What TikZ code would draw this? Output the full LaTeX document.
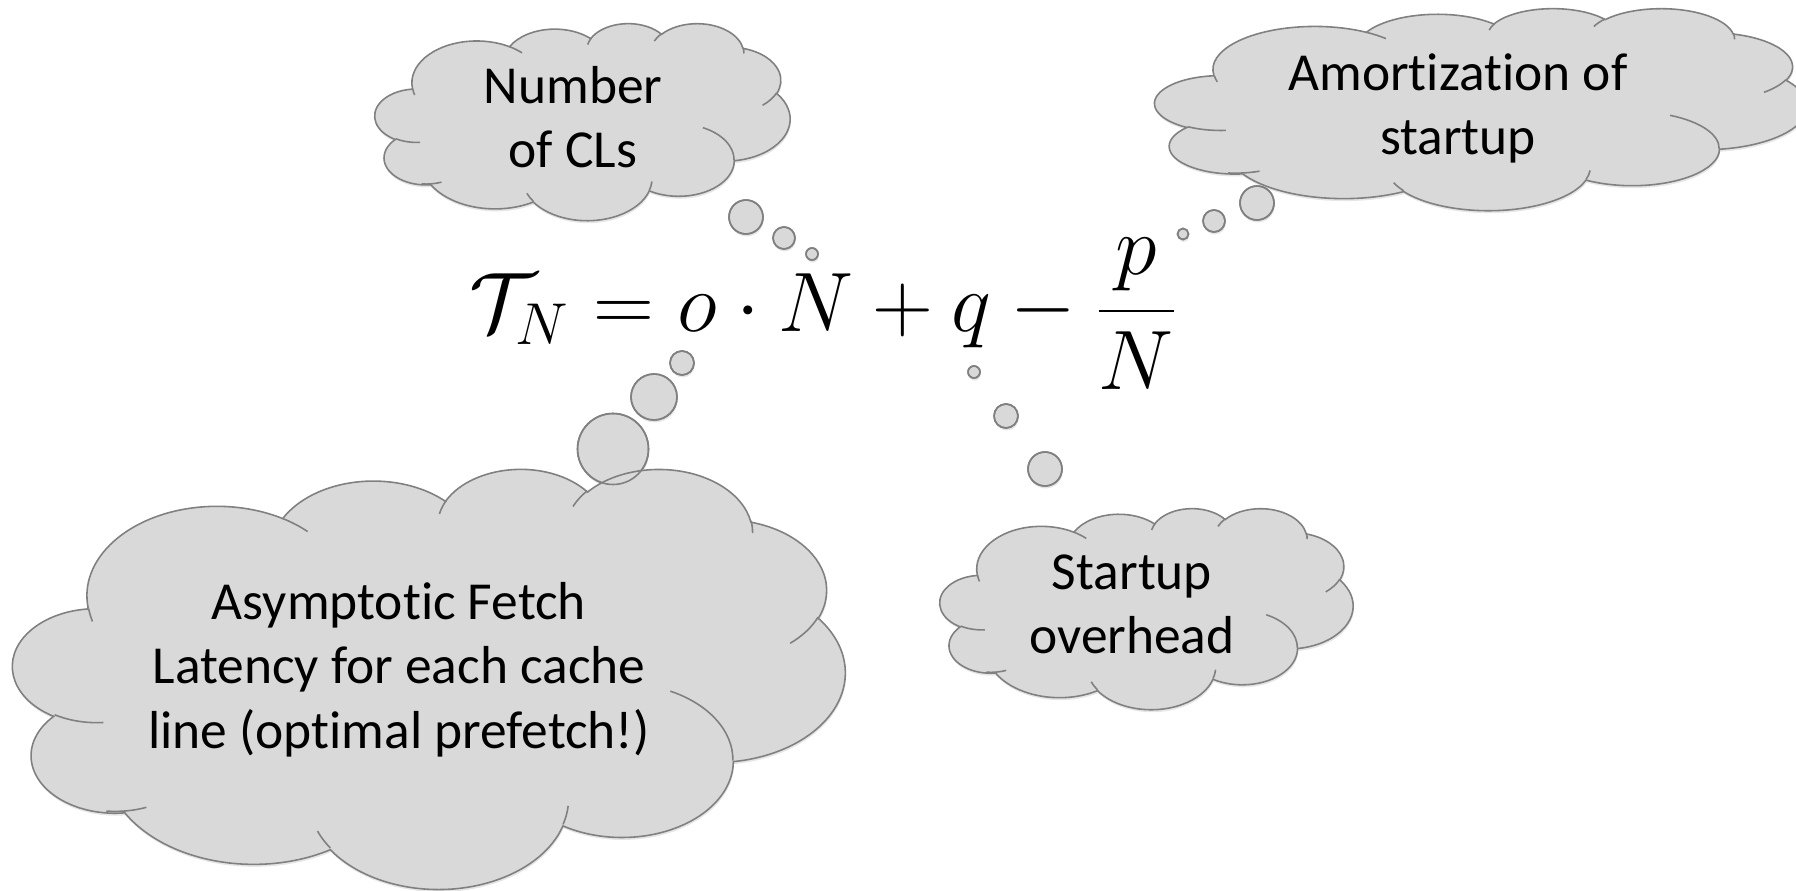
\documentclass[tikz,border=0pt]{standalone}
\usepackage{fix-cm}
\usepackage{fontspec}
\setmainfont{Carlito}[Ligatures=NoCommon]
\usetikzlibrary{shadows}

\definecolor{cloudfill}{HTML}{D9D9D9}
\definecolor{cloudline}{HTML}{808080}

\tikzset{
    % one lobe of a cloud: start angle, sweep, radii (angles measured as seen)
    lobe/.style n args={4}{x radius=#3, y radius=#4,
        start angle={vis(#1,#3,#4)}, end angle={vis(#1+#2,#3,#4)}},
    puff/.style={fill=cloudfill, draw=cloudline, line width=0.45pt,
        drop shadow={shadow xshift=0.2pt, shadow yshift=-0.7pt, opacity=0.2}},
    rim/.style={draw=cloudline, line width=0.45pt},
    thoughttext/.style={font=\fontsize{15.2}{18.2}\selectfont, align=center, inner sep=0pt},
    % cloud in a 432 x 432 box, scaled to width #1 and height #2
    pics/thought/.style 2 args={code={
        \begin{scope}[xscale=#1/432, yscale=#2/432]
            % outline
            \path[puff] (39.00,143.70)
                arc[lobe={-190.4875}{123.7805}{67.53}{91.90}]
                arc[lobe={-144.1024}{89.9452}{53.33}{72.67}]
                arc[lobe={-145.8079}{99.7230}{43.65}{59.45}]
                arc[lobe={-130.9861}{117.2417}{48.57}{65.95}]
                arc[lobe={-78.7089}{109.0269}{53.33}{72.73}]
                arc[lobe={-46.2673}{130.2690}{67.75}{92.20}]
                arc[lobe={0.6250}{114.0333}{57.85}{78.67}]
                arc[lobe={22.4516}{115.1726}{67.52}{92.15}]
                arc[lobe={66.2426}{75.7110}{77.20}{105.43}]
                arc[lobe={-274.9421}{146.7356}{43.60}{59.18}]
                arc[lobe={-246.8285}{152.5189}{43.45}{59.45}]
                -- cycle;
            % creases between the lobes
            \path[rim]
                (46.93,261.77) arc[lobe={86.7420}{26.4295}{43.45}{59.45}]
                (69.28,348.99) arc[lobe={73.6105}{20.9407}{43.60}{59.18}]
                (164.78,390.90) arc[lobe={137.6242}{14.0811}{67.52}{92.15}]
                (288.27,347.51) arc[lobe={6.4533}{15.9984}{67.52}{92.15}]
                (341.29,229.54) arc[lobe={-70.2924}{70.9174}{57.85}{78.67}]
                (417.98,153.54) arc[lobe={30.3180}{27.7515}{53.33}{72.73}]
                (383.24,54.26) arc[lobe={-13.7443}{14.8589}{48.57}{65.95}]
                (290.78,39.52) arc[lobe={-149.1815}{18.1954}{48.57}{65.95}]
                (221.41,47.20) arc[lobe={-163.4943}{17.6864}{43.65}{59.45}]
                (140.00,51.92) arc[lobe={-66.7070}{12.3194}{67.53}{91.90}]
                (41.27,157.89) arc[lobe={159.1226}{11.1837}{67.53}{91.90}];
        \end{scope}
    }}
}

\begin{document}
\begin{tikzpicture}[x=0.01cm, y=-0.01cm,
    declare function={vis(\ang,\wr,\hr)=\ang+asin(sin(atan2(\wr*sin(\ang),\hr*cos(\ang))-\ang));}]
    \useasboundingbox (0,0) rectangle (1796,891);

    % Bubbles of the four callouts (x/y/radius)
    \def\bubbles{746/217/17, 784/238/11, 812/254/6,
                 1257/203/17, 1214/221/11, 1183/234/5.5,
                 682/363/12, 654/397/23, 613/449/35.5,
                 974/372/6, 1006/416/12, 1045/469/17}

    \foreach \bx/\by/\br in \bubbles
        \path[puff] (\bx,\by) circle[radius=\br];

    % Clouds
    \pic at (375,23) {thought={415}{197}};
    \pic at (1155,8) {thought={652}{202}};
    \pic at (13,468) {thought={832}{420}};
    \pic at (940,508) {thought={413}{201}};

    % Bubble rims again, over the clouds
    \foreach \bx/\by/\br in \bubbles
        \path[rim] (\bx,\by) circle[radius=\br];

    % Labels (base = last line)
    \node[thoughttext, anchor=base] (numcl) at (573,168) {Number\\of CLs};
    \node[thoughttext, anchor=base] (amort) at (1458,155) {Amortization of\\startup};
    \node[thoughttext, anchor=base] (fetch) at (399,748) {Asymptotic Fetch\\Latency for each cache\\line (optimal prefetch!)};
    \node[thoughttext, anchor=base] (start) at (1132,653) {Startup\\overhead};

    % Formula
    \node[anchor=base, inner sep=0pt, font=\fontsize{24}{29}\selectfont] (formula) at (824,332)
        {$\displaystyle \mathcal{T}_N = o\cdot N + q - \frac{p}{N}$};
\end{tikzpicture}
\end{document}
